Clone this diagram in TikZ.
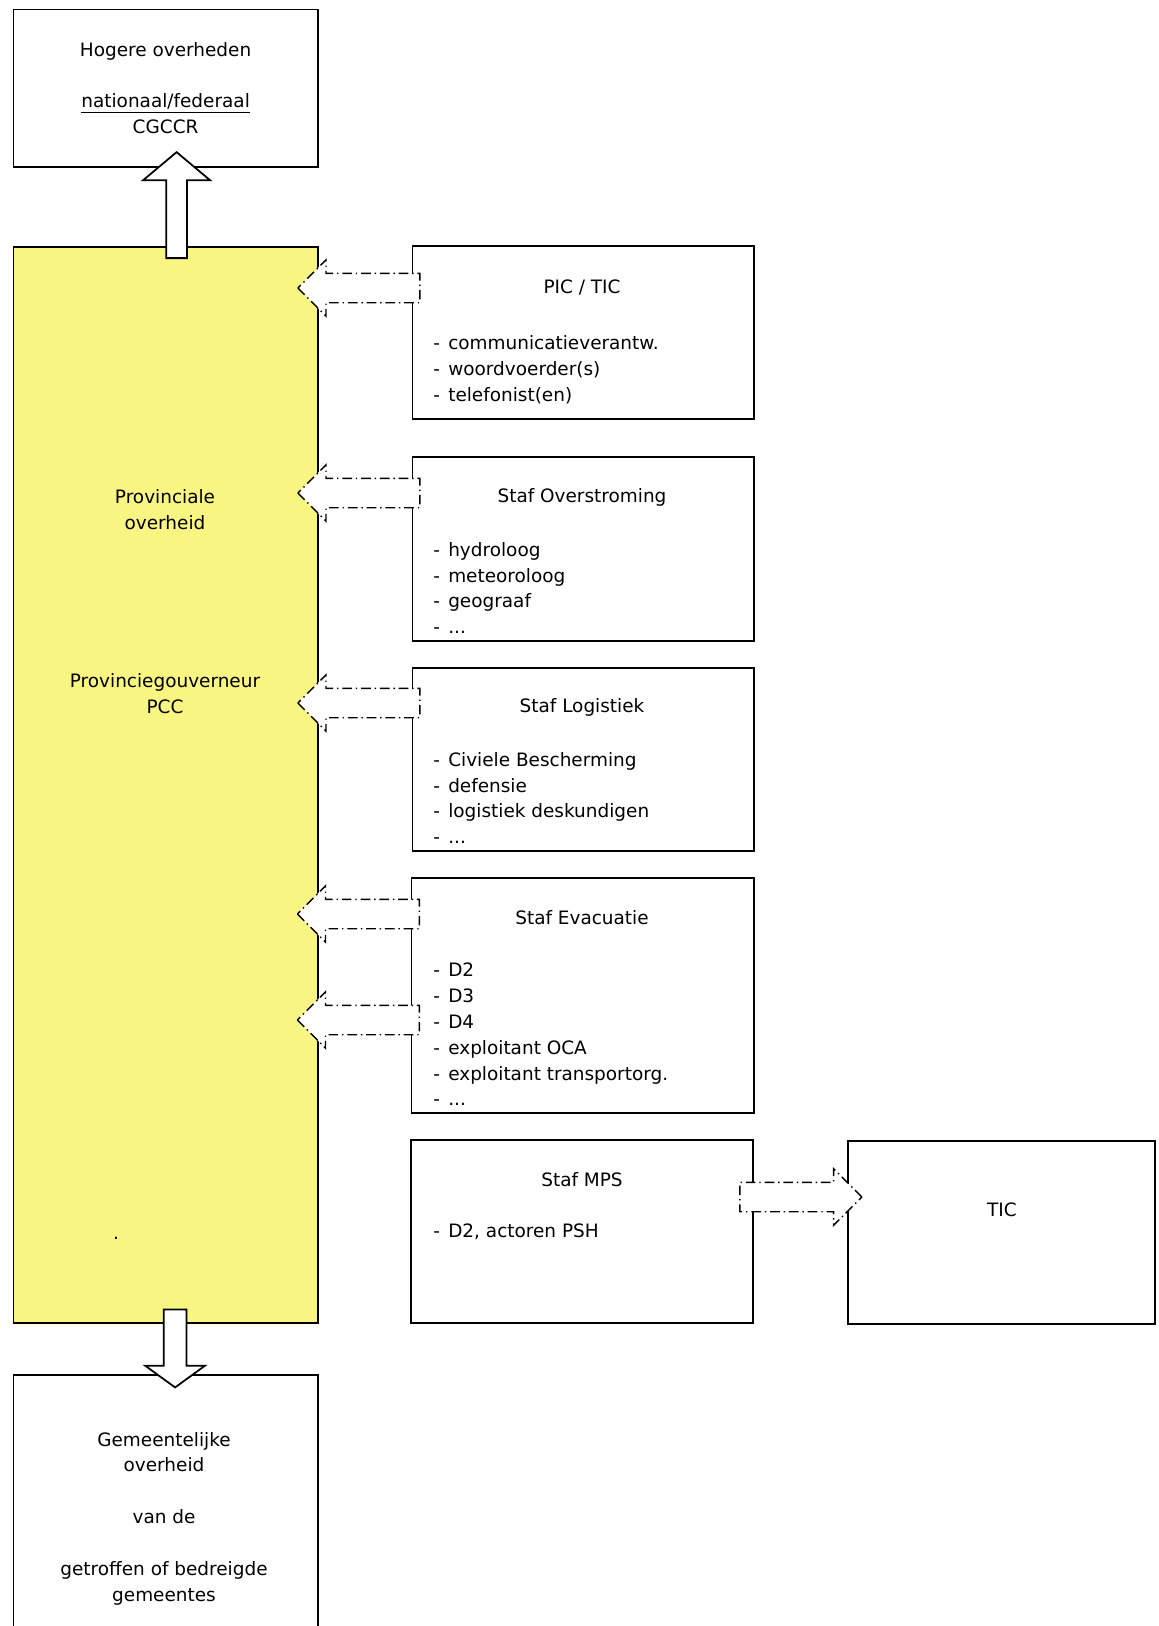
\documentclass[tikz,border=0pt]{standalone}
\usepackage{fontspec}
\setmainfont{DejaVu Sans}
\usetikzlibrary{shapes.arrows,positioning}

\definecolor{provyel}{RGB}{249,245,130}
\newcommand{\itm}{\makebox[8.5pt][l]{-}}

\begin{document}
\begin{tikzpicture}[x=0.02cm,y=-0.02cm,font=\fontsize{10.5}{14.7}\selectfont,
 box/.style={draw,line width=1pt,anchor=north west,inner sep=0pt},
 rbox/.style={box,minimum width=6.83cm,minimum height=3.66cm},
 lst/.style={align=left,anchor=west,inner sep=0pt},
 fat/.style={draw,line width=1pt,fill=white,single arrow,single arrow tip angle=100,anchor=tail},
 dda/.style={draw,line width=0.8pt,fill=white,single arrow,single arrow tip angle=90,inner sep=0.28cm,anchor=tail,
   minimum height=2.44cm,single arrow head extend=0.27cm,
   dash pattern=on 5.5pt off 2.2pt on 0.8pt off 2.2pt}]
\useasboundingbox (0,0) rectangle (1159,1626);
\clip (0,0) rectangle (1159,1626);
\node[box,align=center,minimum width=6.09cm,minimum height=3.15cm] (hog) at (12.5,8.5)
  {Hogere overheden\\[14.7pt]\underline{nationaal/federaal}\\CGCCR};
\node[box,fill=provyel,minimum width=6.09cm,minimum height=21.52cm] (prov) at (12.5,246) {};
\node[align=center] (provtxt) at (165,509.5) {Provinciale\\overheid};
\node[align=center] (pcc) at (165,693.5) {Provinciegouverneur\\PCC};
\node (dot) at (116,1238) {.};
\node[box,minimum width=6.09cm,minimum height=6cm] (gem) at (12.5,1374) {};
\node[align=center] (gemtxt) at (164,1518.5)
  {Gemeentelijke\\overheid\\[14.7pt]van de\\[14.7pt]getroffen of bedreigde\\gemeentes};

\node[rbox,minimum height=3.46cm] (pic) at (411.5,245) {};
\node (pictitle) at (582,288) {PIC / TIC};
\node[lst] (piclst) at (433,370) {\itm communicatieverantw.\\\itm woordvoerder(s)\\\itm telefonist(en)};
\node[rbox,minimum height=3.68cm] (ovs) at (411.5,456) {};
\node (ovstitle) at (582,497) {Staf Overstroming};
\node[lst] (ovslst) at (433,588) {\itm hydroloog\\\itm meteoroloog\\\itm geograaf\\\itm ...};
\node[rbox] (log) at (411.5,667) {};
\node (logtitle) at (582,707) {Staf Logistiek};
\node[lst] (loglst) at (433,798) {\itm Civiele Bescherming\\\itm defensie\\\itm logistiek deskundigen\\\itm ...};
\node[rbox,minimum width=6.85cm,minimum height=4.7cm] (evac) at (410.5,877) {};
\node (evactitle) at (582,918) {Staf Evacuatie};
\node[lst] (evaclst) at (433,1034.5) {\itm D2\\\itm D3\\\itm D4\\\itm exploitant OCA\\\itm exploitant transportorg.\\\itm ...};
\node[rbox,minimum width=6.85cm] (mps) at (410,1139) {};
\node (mpstitle) at (582,1180) {Staf MPS};
\node[lst] (mpslst) at (433,1232) {\itm D2, actoren PSH};
\node[rbox,minimum width=6.14cm] (tic) at (847,1140) {};
\node (tictxt) at (1002,1210) {TIC};

\node[fat,shape border rotate=90,inner sep=0.19cm,minimum height=2.12cm,single arrow head extend=0.46cm] (up) at ([shift={(11,13)}]prov.north) {};
\node[fat,shape border rotate=270,inner sep=0.21cm,minimum height=1.56cm,single arrow head extend=0.37cm,single arrow tip angle=108] (down) at ([shift={(9.5,-15)}]prov.south) {};
\node[dda,shape border rotate=180] (a1) at ([shift={(9,43)}]pic.north west) {};
\node[dda,shape border rotate=180] (a2) at ([shift={(9,37)}]ovs.north west) {};
\node[dda,shape border rotate=180] (a3) at ([shift={(9,36)}]log.north west) {};
\node[dda,shape border rotate=180] (a4) at ([shift={(9.5,37)}]evac.north west) {};
\node[dda,shape border rotate=180] (a5) at ([shift={(9.5,143)}]evac.north west) {};
\node[dda,shape border rotate=0] (a6) at ([shift={(-15,58)}]mps.north east) {};
\end{tikzpicture}
\end{document}
